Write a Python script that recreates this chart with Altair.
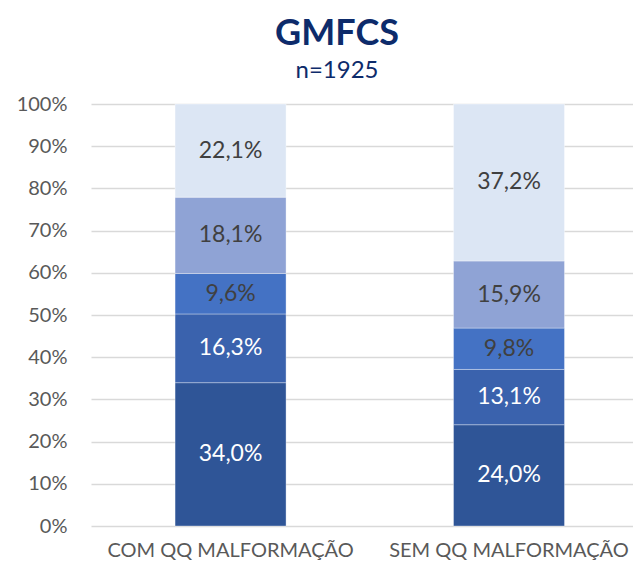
import altair as alt
import pandas as pd

categories = ["COM QQ MALFORMAÇÃO", "SEM QQ MALFORMAÇÃO"]
levels = ["I", "II", "III", "IV", "V"]
com_values = [34.0, 16.3, 9.6, 18.1, 22.1]
sem_values = [24.0, 13.1, 9.8, 15.9, 37.2]
level_colors = ["#2F5597", "#3A62AD", "#4472C4", "#8FA3D5", "#DCE6F4"]
label_colors = ["#FFFFFF", "#FFFFFF", "#404040", "#404040", "#404040"]

rows = []
for cat, vals in zip(categories, [com_values, sem_values]):
    for i, (lev, v) in enumerate(zip(levels, vals)):
        rows.append({"cat": cat, "level": lev, "order": i, "value": v,
                     "label": f"{v:.1f}".replace(".", ",") + "%"})
df = pd.DataFrame(rows)

FONT = "Lato"

base = alt.Chart(df).transform_stack(
    stack="value", groupby=["cat"], as_=["y0", "y1"],
    offset="normalize", sort=[alt.SortField("order", order="ascending")]
).transform_calculate(mid="(datum.y0 + datum.y1) / 2")

xenc = alt.X("cat:N", sort=categories, title=None,
             scale=alt.Scale(paddingInner=0.6014, paddingOuter=0.274, align=0.551),
             axis=alt.Axis(labelAngle=0, labelFont=FONT, labelFontSize=20,
                           labelColor="#595959", labelPadding=14, ticks=False,
                           domain=False, labelLimit=0))

bars = base.mark_bar(stroke="white", strokeWidth=1, strokeOpacity=0.35).encode(
    x=xenc,
    y=alt.Y("y0:Q", scale=alt.Scale(domain=[0, 1]), title=None,
            axis=alt.Axis(format=".0%", values=[i / 10 for i in range(11)],
                          labelFont=FONT, labelFontSize=20, labelColor="#595959",
                          labelPadding=24, ticks=False, domain=False,
                          gridColor="#D9D9D9", gridWidth=1.5)),
    y2="y1:Q",
    color=alt.Color("level:N", scale=alt.Scale(domain=levels, range=level_colors),
                    legend=None),
)

texts = base.mark_text(font=FONT, fontSize=23, baseline="middle").encode(
    x=alt.X("cat:N", sort=categories),
    y=alt.Y("mid:Q"),
    text="label:N",
    color=alt.Color("level:N", scale=alt.Scale(domain=levels, range=label_colors),
                    legend=None),
)

chart = alt.layer(bars, texts).resolve_scale(color="independent").properties(
    width=542, height=422,
    padding={"left": 8, "top": 8, "right": 0, "bottom": 0},
    title=alt.TitleParams(
        text="GMFCS", subtitle="n=1925", anchor="middle", frame="group", dx=-25,
        font=FONT, fontSize=36, fontWeight="bold", color="#0D2B6B",
        subtitleFont=FONT, subtitleFontSize=24, subtitleColor="#0D2B6B",
        subtitlePadding=6, offset=10,
    ),
).configure_view(stroke=None)

chart.save("out.html", embed_options={"renderer": "svg", "actions": False})
